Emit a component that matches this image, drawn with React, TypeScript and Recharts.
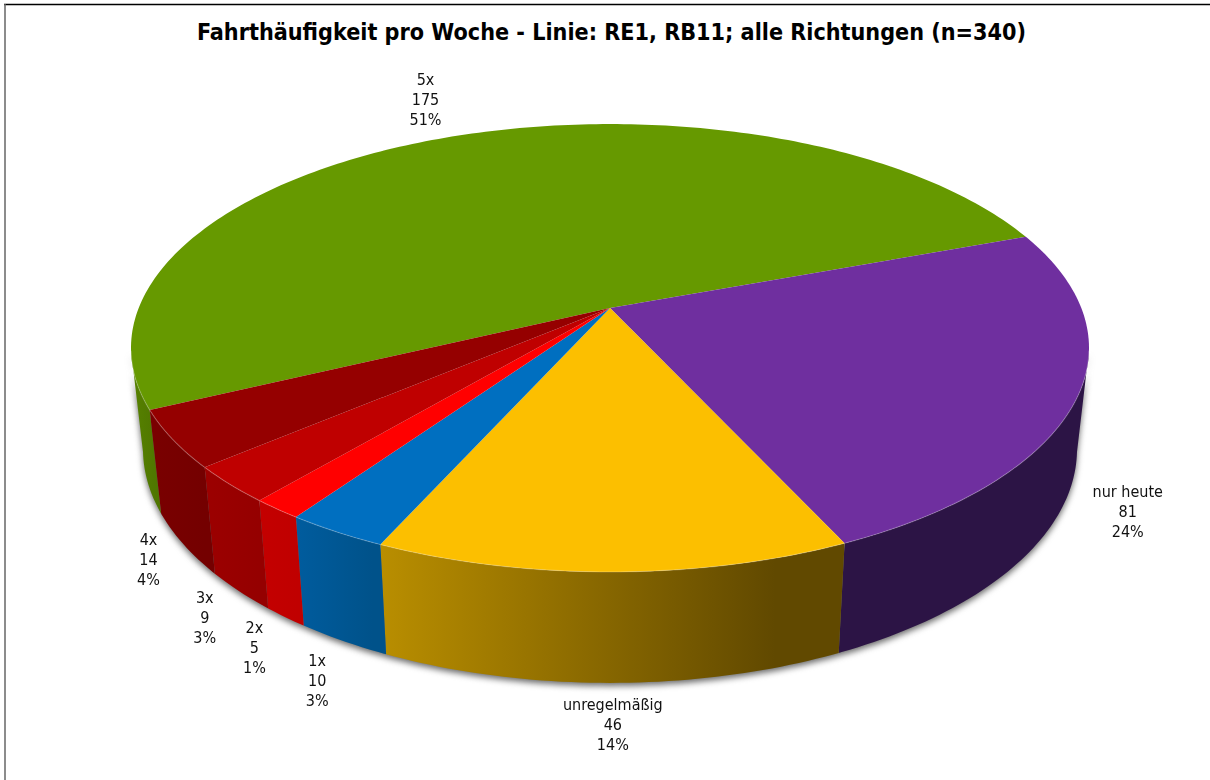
import React from "react";
import { PieChart, Pie } from "recharts";

const categories = ["5x", "nur heute", "unregelmäßig", "1x", "2x", "3x", "4x"];
const values = [175, 81, 46, 10, 5, 9, 14];
const topColors = ["#669900", "#6f2f9f", "#fcbf00", "#006fc0", "#ff0000", "#bf0000", "#950000"];
const wallStops = [
  ["#578200", "#4f7600"],
  ["#2c1445", "#2c1445"],
  ["#b98e00", "#614900"],
  ["#005c9e", "#00528a"],
  ["#c40000", "#c00000"],
  ["#9c0000", "#950000"],
  ["#7a0000", "#740000"],
];
// label offset from the rim, by slice
const labelNudge = [
  [-26, -37],
  [62, 11],
  [0, 42],
  [-26, 40],
  [-31, 30],
  [-35, 26],
  [-35, 15],
];

const total = values.reduce((a, b) => a + b, 0);
const tableData = categories.map((name, i) => ({ name, value: values[i] }));

const WIDTH = 1210;
const HEIGHT = 780;
const CX = 610;
const CY = 308;
const RADIUS = 471.3;
// perspective of the tilted disc
const PERSP = -0.1786;
const SQUASH = 0.46;
const START = 205.7;
// the wall is only seen below this sine (where the rim is widest)
const WALL_LIMIT = -0.174;

const rad = (deg: number) => (deg * Math.PI) / 180;

function rim(cx: number, cy: number, r: number, deg: number) {
  const u = Math.cos(rad(deg));
  const v = -Math.sin(rad(deg));
  const d = 1 + PERSP * v;
  return { x: cx + (r * u) / d, y: cy + (r * SQUASH * v) / d };
}

// same rim point on the bottom of the disc
function lower(p: { x: number; y: number }, cx: number, cy: number) {
  return { x: cx + 0.975 * (p.x - cx), y: cy + 141 + 1.0446 * (p.y - cy - 40) };
}

function sweep(startAngle: number, endAngle: number) {
  const out = [startAngle];
  for (let a = Math.floor(startAngle); a > endAngle; a -= 1) {
    if (a < startAngle) out.push(a);
  }
  out.push(endAngle);
  return out;
}

const toPath = (pts: { x: number; y: number }[]) =>
  pts.map((p, i) => `${i === 0 ? "M" : "L"}${p.x.toFixed(2)},${p.y.toFixed(2)}`).join(" ");

function wallPoints(props: any) {
  const { cx, cy, outerRadius, startAngle, endAngle } = props;
  const angles = sweep(startAngle, endAngle).filter((a) => Math.sin(rad(a)) <= WALL_LIMIT);
  return angles.map((a) => rim(cx, cy, outerRadius, a));
}

function SliceShape(props: any) {
  const { cx, cy, outerRadius, startAngle, endAngle, fill, index } = props;
  const top = sweep(startAngle, endAngle).map((a) => rim(cx, cy, outerRadius, a));
  const front = wallPoints(props);
  const bottom = front.map((p) => lower(p, cx, cy)).reverse();
  return (
    <g>
      {front.length > 1 && <path d={`${toPath([...front, ...bottom])} Z`} fill={`url(#wall${index})`} />}
      <path d={`M${cx},${cy} ${toPath(top).replace("M", "L")} Z`} fill={fill} />
      {front.length > 1 && <path d={toPath(front)} fill="none" stroke="#fff" strokeOpacity={0.2} strokeWidth={1.2} />}
    </g>
  );
}

function ShadowShape(props: any) {
  const { cx, cy } = props;
  const front = wallPoints(props);
  if (front.length < 2) return <g />;
  const bottom = front.map((p) => lower(p, cx, cy)).reverse();
  return <path d={`${toPath([...front, ...bottom])} Z`} fill="#6a6a6a" transform="translate(0,3)" />;
}

function SliceLabel(props: any) {
  const { cx, cy, outerRadius, midAngle, index } = props;
  const p = rim(cx, cy, outerRadius, midAngle);
  const anchor = Math.sin(rad(midAngle)) < 0 ? lower(p, cx, cy) : p;
  const x = anchor.x + labelNudge[index][0];
  const y = anchor.y + labelNudge[index][1];
  return (
    <text x={x} y={y - 14.5} textAnchor="middle" fontSize={16} fill="#111" fontFamily="'DejaVu Sans Condensed', 'DejaVu Sans'">
      <tspan x={x}>{categories[index]}</tspan>
      <tspan x={x} dy={20}>{values[index]}</tspan>
      <tspan x={x} dy={20}>{`${Math.round((values[index] / total) * 100)}%`}</tspan>
    </text>
  );
}

export default function App() {
  const pieProps = {
    dataKey: "value",
    nameKey: "name",
    cx: CX,
    cy: CY,
    outerRadius: RADIUS,
    startAngle: START,
    endAngle: START - 360,
    stroke: "none",
    isAnimationActive: false,
  };
  const data = tableData.map((d, i) => ({ ...d, fill: topColors[i] }));

  return (
    <div style={{ position: "absolute", left: 0, top: 0, width: WIDTH, height: HEIGHT, background: "#fff" }}>
      <style>{`.pie-shadow { filter: blur(3px); }`}</style>
      <PieChart width={WIDTH} height={HEIGHT} margin={{ top: 0, right: 0, bottom: 0, left: 0 }}>
        <defs>
          {wallStops.map((s, i) => (
            <linearGradient key={categories[i]} id={`wall${i}`} x1="0" y1="0" x2="1" y2="0">
              <stop offset="0" stopColor={s[0]} />
              <stop offset="0.85" stopColor={s[1]} />
              <stop offset="1" stopColor={s[1]} />
            </linearGradient>
          ))}
        </defs>
        <line x1={4} y1={4.5} x2={WIDTH} y2={4.5} stroke="#000" strokeWidth={1.5} />
        <line x1={5} y1={4} x2={5} y2={HEIGHT} stroke="#666" strokeWidth={1.5} />
        <text x={611.5} y={40} textAnchor="middle" fontSize={23.15} fontWeight="bold" fill="#000" fontFamily="'DejaVu Sans Condensed', 'DejaVu Sans'">
          Fahrthäufigkeit pro Woche - Linie: RE1, RB11; alle Richtungen (n=340)
        </text>
        <Pie {...pieProps} data={data} className="pie-shadow" shape={ShadowShape} />
        <Pie {...pieProps} data={data} shape={SliceShape} label={SliceLabel} labelLine={false} />
      </PieChart>
    </div>
  );
}
